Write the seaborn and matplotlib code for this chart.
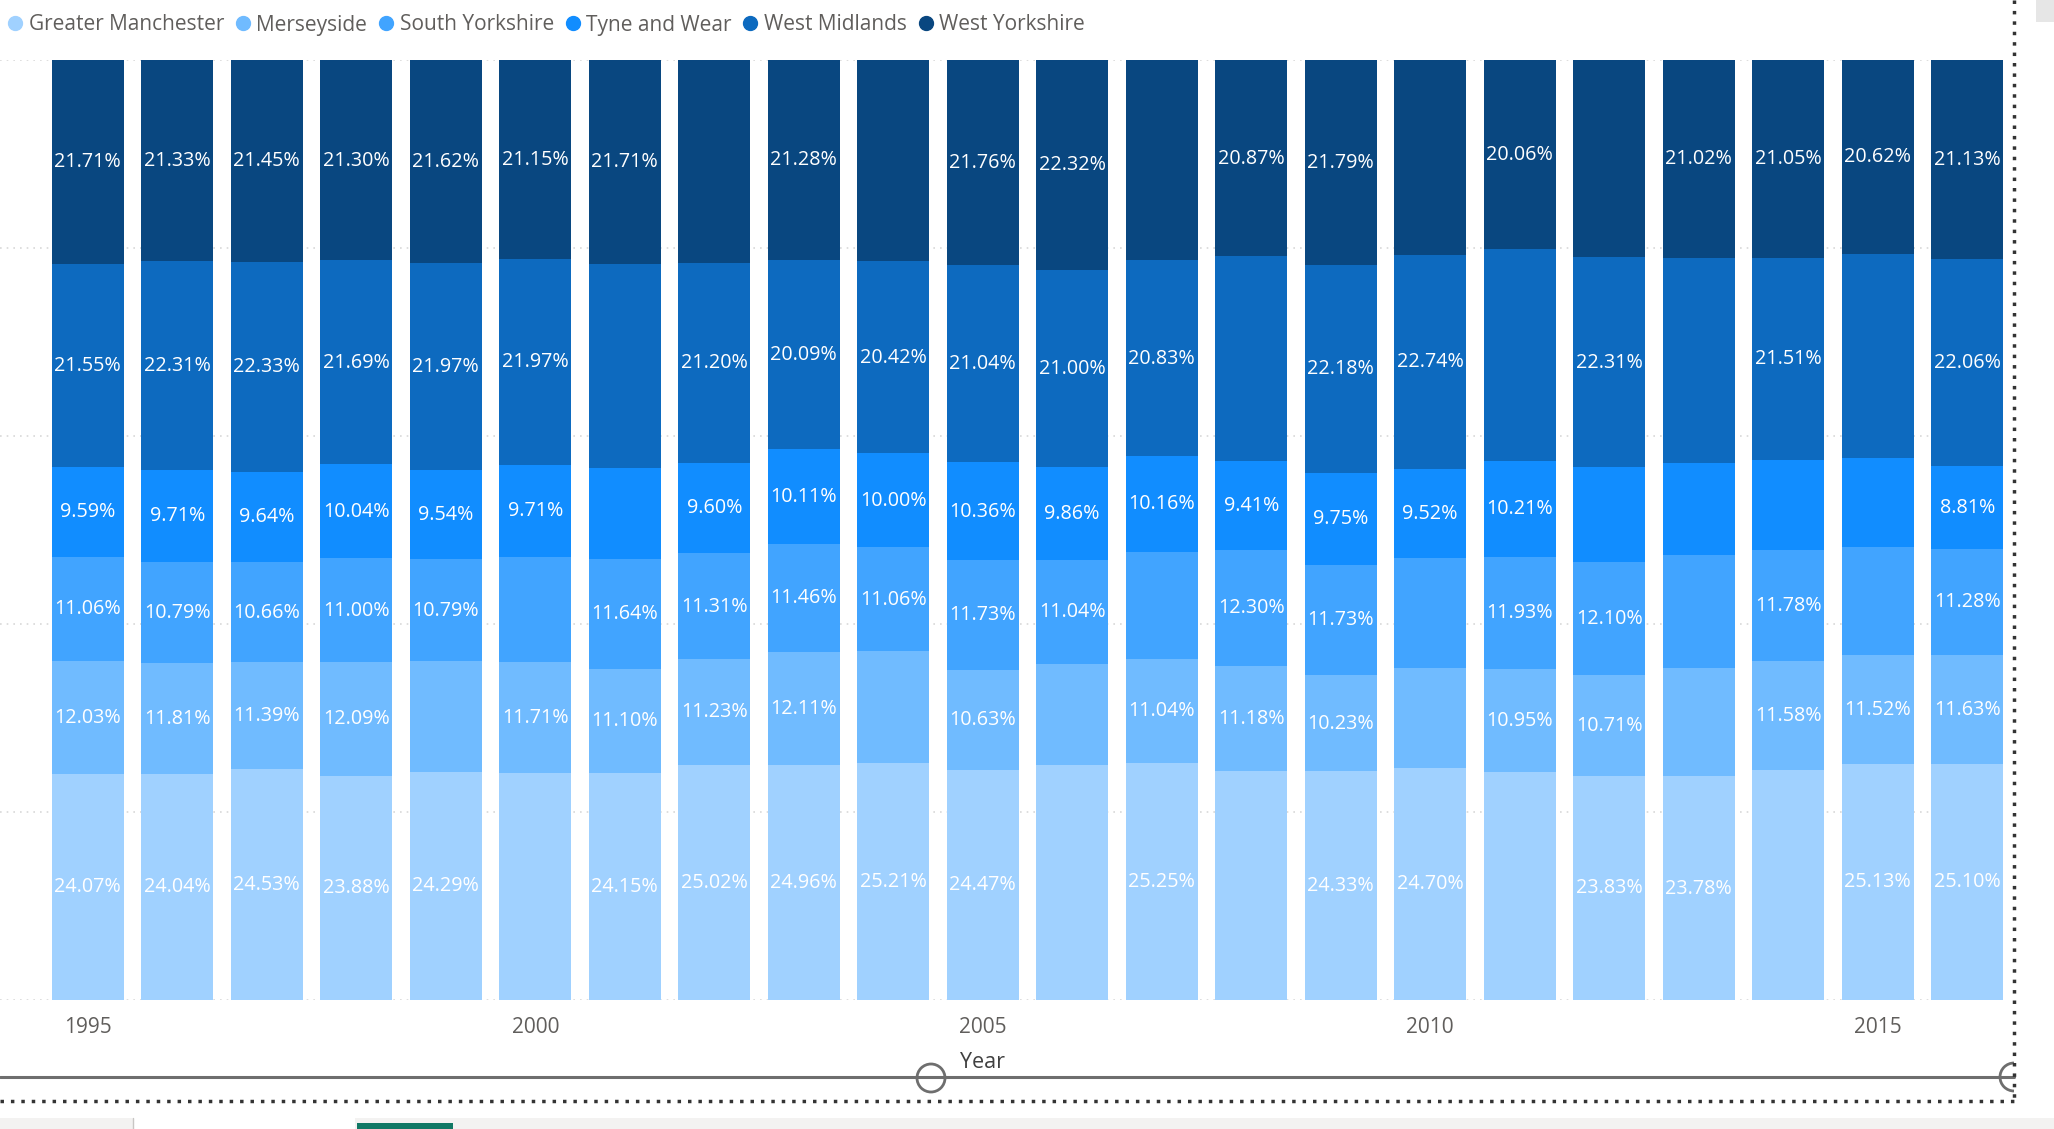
import matplotlib
matplotlib.use("Agg")
import matplotlib.pyplot as plt
import pandas as pd
import seaborn as sns
from matplotlib.lines import Line2D
from matplotlib.patches import Arc, Circle, Rectangle

YEARS = list(range(1995, 2017))
REGIONS = [
    "Greater Manchester",
    "Merseyside",
    "South Yorkshire",
    "Tyne and Wear",
    "West Midlands",
    "West Yorkshire",
]
COLORS = ["#A0D1FF", "#70BBFF", "#41A4FF", "#118DFF", "#0D6ABF", "#094780"]

# share of total (%) per year
greater_manchester = [24.07, 24.04, 24.53, 23.88, 24.29, 24.20, 24.15, 25.02, 24.96, 25.21, 24.47,
                      25.00, 25.25, 24.40, 24.33, 24.70, 24.30, 23.83, 23.78, 24.47, 25.13, 25.10]
merseyside = [12.03, 11.81, 11.39, 12.09, 11.79, 11.71, 11.10, 11.23, 12.11, 11.90, 10.63,
              10.78, 11.04, 11.18, 10.23, 10.60, 10.95, 10.71, 11.51, 11.58, 11.52, 11.63]
south_yorkshire = [11.06, 10.79, 10.66, 11.00, 10.79, 11.26, 11.64, 11.31, 11.46, 11.06, 11.73,
                   11.04, 11.40, 12.30, 11.73, 11.70, 11.93, 12.10, 12.05, 11.78, 11.50, 11.28]
tyne_and_wear = [9.59, 9.71, 9.64, 10.04, 9.54, 9.71, 9.70, 9.60, 10.11, 10.00, 10.36,
                 9.86, 10.16, 9.41, 9.75, 9.52, 10.21, 10.05, 9.75, 9.61, 9.47, 8.81]
west_midlands = [21.55, 22.31, 22.33, 21.69, 21.97, 21.97, 21.70, 21.20, 20.09, 20.42, 21.04,
                 21.00, 20.83, 21.84, 22.18, 22.74, 22.55, 22.31, 21.89, 21.51, 21.76, 22.06]
west_yorkshire = [21.71, 21.33, 21.45, 21.30, 21.62, 21.15, 21.71, 21.64, 21.28, 21.41, 21.76,
                  22.32, 21.32, 20.87, 21.79, 20.74, 20.06, 21.00, 21.02, 21.05, 20.62, 21.13]

# data labels that the original visual does not show
HIDDEN_LABELS = {
    1999: ["Merseyside"],
    2000: ["Greater Manchester", "South Yorkshire"],
    2001: ["Tyne and Wear", "West Midlands"],
    2002: ["West Yorkshire"],
    2004: ["Merseyside", "West Yorkshire"],
    2006: ["Greater Manchester", "Merseyside"],
    2007: ["South Yorkshire", "West Yorkshire"],
    2008: ["Greater Manchester", "West Midlands"],
    2010: ["Merseyside", "South Yorkshire", "West Yorkshire"],
    2011: ["Greater Manchester", "West Midlands"],
    2012: ["Tyne and Wear", "West Yorkshire"],
    2013: ["Merseyside", "South Yorkshire", "Tyne and Wear", "West Midlands"],
    2014: ["Greater Manchester", "Tyne and Wear"],
    2015: ["South Yorkshire", "Tyne and Wear", "West Midlands"],
}

W, H = 2054, 1129

sns.set_theme(style="white")
plt.rcParams["font.family"] = ["Open Sans", "DejaVu Sans"]

df = pd.DataFrame({
    "Year": YEARS,
    "Greater Manchester": greater_manchester,
    "Merseyside": merseyside,
    "South Yorkshire": south_yorkshire,
    "Tyne and Wear": tyne_and_wear,
    "West Midlands": west_midlands,
    "West Yorkshire": west_yorkshire,
})
long = df.melt(id_vars="Year", var_name="Region", value_name="Share")
long["Bottom"] = long.groupby("Year")["Share"].cumsum() - long["Share"]

fig = plt.figure(figsize=(W / 100, H / 100), dpi=100)
ax = fig.add_axes([0, (H - 1000) / H, 2003 / W, 940 / H])

for region, color in zip(REGIONS, COLORS):
    sub = long[long["Region"] == region]
    sns.barplot(data=sub, x="Year", y="Share", order=YEARS, bottom=sub["Bottom"].to_numpy(),
                color=color, saturation=1, width=0.8, linewidth=0, errorbar=None, ax=ax)
    labels = [
        "" if region in HIDDEN_LABELS.get(y, []) else f"{v:.2f}%"
        for y, v in zip(sub["Year"], sub["Share"])
    ]
    txts = ax.bar_label(ax.containers[-1], labels=labels, label_type="center",
                        color="white", fontsize=14.2)
    for t in txts:
        t.set_y(t.get_position()[1] - 0.3)

ax.set_xlim(-0.4 - 52 / 89.5, 21.4)
ax.set_ylim(0, 100)
ax.set_yticks(range(0, 101, 20))
ax.yaxis.grid(True, linestyle=(0, (1, 3)), color="#D8D8D8", linewidth=1.2)
ax.set_axisbelow(True)
ax.tick_params(axis="y", left=False, labelleft=False)

tick_pos = [i for i, y in enumerate(YEARS) if y % 5 == 0]
ax.set_xticks(tick_pos, [str(YEARS[i]) for i in tick_pos])
ax.tick_params(axis="x", length=0, pad=12, labelsize=15, labelcolor="#605E5C")
ax.set_xlabel("Year", fontsize=15.5, color="#404040")
ax.xaxis.label.set_va("center")
ax.xaxis.set_label_coords(983 / 2003, -62 / 940)
ax.set_ylabel("")
sns.despine(ax=ax, left=True, bottom=True)

handles = [Line2D([], [], marker="o", linestyle="", markersize=10, color=c) for c in COLORS]
fig.legend(handles, REGIONS, loc="center left", bbox_to_anchor=(8 / W, 1 - 25 / H),
           ncol=6, frameon=False, handlelength=0.7, handletextpad=0.3, columnspacing=0.55,
           borderpad=0, borderaxespad=0, fontsize=15, labelcolor="#605E5C")

# report canvas chrome around the visual
ov = fig.add_axes([0, 0, 1, 1], facecolor="none")
ov.set_xlim(0, W)
ov.set_ylim(H, 0)
ov.axis("off")
ov.plot([0, 2014], [1077, 1077], color="#6E6E6E", lw=2.2)
ov.add_patch(Circle((931, 1078), 14, facecolor="white", edgecolor="#6E6E6E", lw=2))
ov.add_patch(Arc((2014, 1077), 28, 28, theta1=90, theta2=270, color="#6E6E6E", lw=2))
ov.plot([0, 2014], [1101, 1101], color="#333333", lw=2.5, linestyle=(0, (1, 2.0)))
ov.plot([2014, 2014], [0, 1101], color="#333333", lw=2.5, linestyle=(0, (1, 2.0)))
ov.add_patch(Rectangle((0, 1118), W, 11, facecolor="#F3F2F1", edgecolor="none"))
ov.add_patch(Rectangle((133, 1118), 222, 11, facecolor="white", edgecolor="none"))
ov.plot([133, 133], [1118, 1129], color="#C8C6C4", lw=1)
ov.add_patch(Rectangle((357, 1123), 96, 6, facecolor="#117865", edgecolor="none"))
ov.add_patch(Rectangle((2036, 0), 18, 22, facecolor="#E6E6E6", edgecolor="none"))

fig.savefig("out.png", dpi=100)
